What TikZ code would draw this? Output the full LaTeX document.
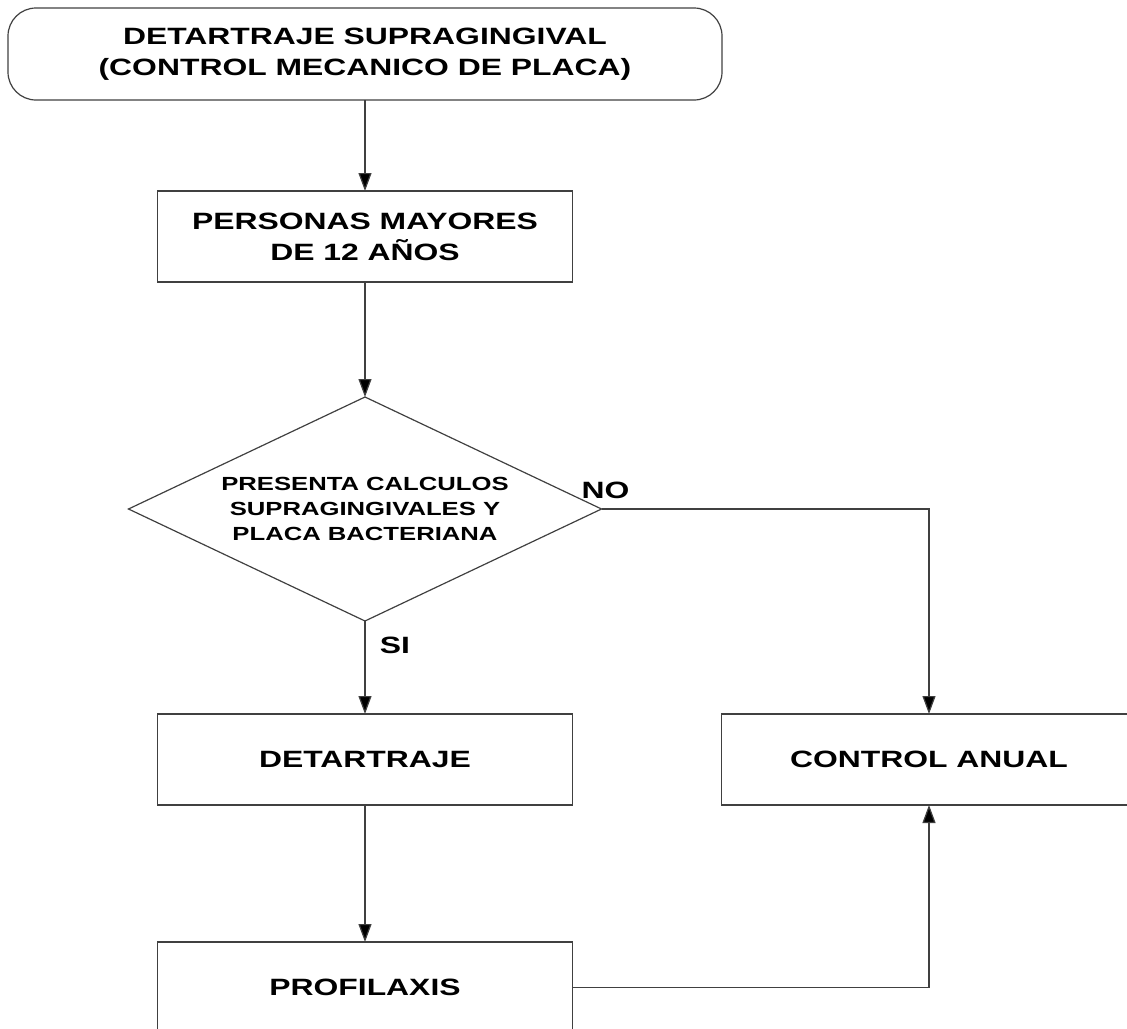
\documentclass[tikz,border=0pt]{standalone}
\usepackage{fontspec}
\setmainfont{Liberation Sans}[FakeStretch=1.35]
\usepackage{tikz}
\usetikzlibrary{positioning,shapes.geometric,arrows.meta}

\begin{document}
\begin{tikzpicture}[x=1pt, y=1pt, node distance = {91pt},
	caja/.style = {draw=black!75, line width=1.2pt, minimum width=415pt, minimum height=91pt, outer sep=0pt, align=center, font=\fontsize{23.6}{31}\selectfont\bfseries},
	inicio/.style = {caja, rounded corners=28pt, minimum width=714pt, minimum height=92pt},
	decision/.style = {draw=black!75, line width=1.2pt, diamond, aspect=2.11, minimum width=473pt, minimum height=224pt, inner sep=1pt, outer sep=0pt, align=center, font=\fontsize{19}{25}\selectfont\bfseries},
	etiq/.style = {font=\fontsize{23.6}{28}\selectfont\bfseries},
	flecha/.style = {draw=black!75, line width=1.2pt, -{Triangle[length=18pt, width=13pt, fill=black]}}]
	\useasboundingbox (0,0) rectangle (1127,-1028);
	\node[inicio] (start) at (365,-54) {DETARTRAJE SUPRAGINGIVAL\\(CONTROL MECANICO DE PLACA)};
	\node[caja] (mayores) [below=91pt of start] {PERSONAS MAYORES\\DE 12 AÑOS};
	\node[decision] (presenta) [below=115pt of mayores] {PRESENTA CALCULOS\\SUPRAGINGIVALES Y\\PLACA BACTERIANA};
	\node[caja] (detar) [below=93pt of presenta] {DETARTRAJE};
	\node[caja] (control) [right=149pt of detar] {CONTROL ANUAL};
	\node[caja] (profi) [below=137pt of detar] {PROFILAXIS};
	\draw[flecha] (start) -- (mayores);
	\draw[flecha] (mayores) -- (presenta);
	\draw[flecha] (presenta) -- node[etiq, pos=0.26, right=11pt] {SI} (detar);
	\draw[flecha] (presenta) -| node[etiq, pos=0, above, xshift=4pt, yshift=6pt] {NO} (control);
	\draw[flecha] (detar) -- (profi);
	\draw[flecha] (profi) -| (control);
\end{tikzpicture}
\end{document}
